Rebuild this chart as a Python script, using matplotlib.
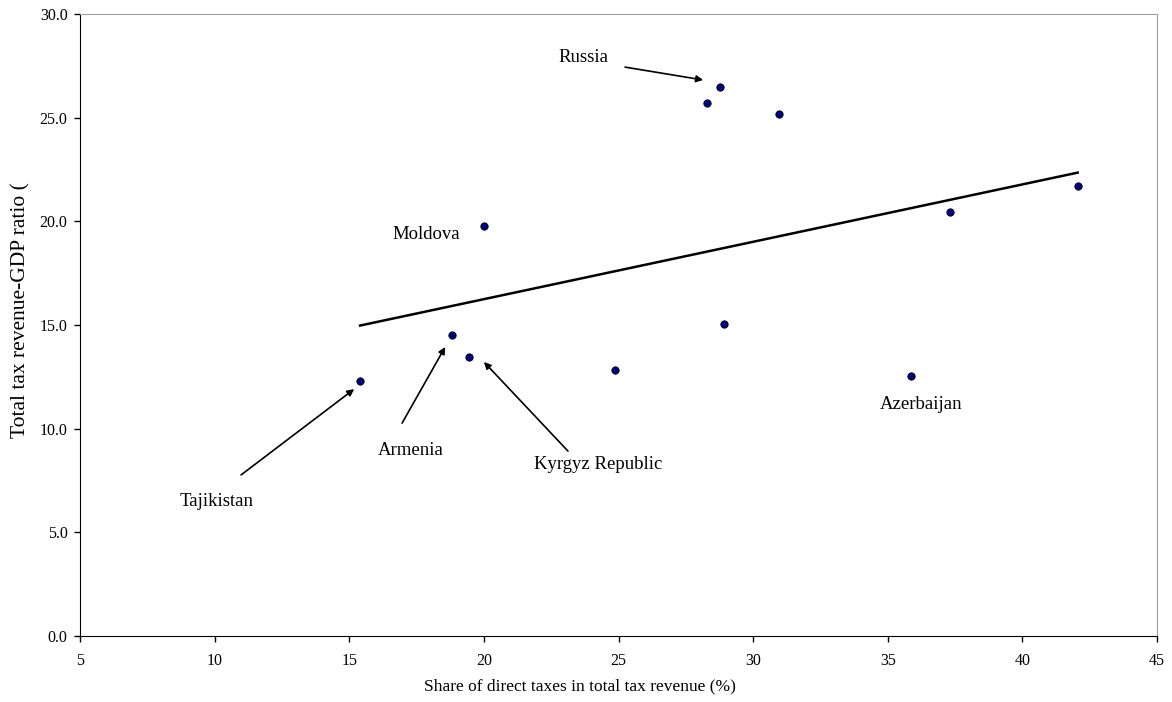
import numpy as np
import matplotlib.pyplot as plt

# Share of direct taxes (%) vs total tax revenue / GDP (%)
direct_share = [15.4, 18.8, 19.45, 20.0, 24.85, 28.9, 28.3, 28.75, 30.95, 35.85, 37.3, 42.05]
tax_gdp = [12.3, 14.5, 13.45, 19.8, 12.85, 15.05, 25.7, 26.5, 25.2, 12.55, 20.45, 21.7]

x_ticks = [5, 10, 15, 20, 25, 30, 35, 40, 45]
y_ticks = [0, 5, 10, 15, 20, 25, 30]

plt.rcParams['font.family'] = ['Liberation Serif', 'DejaVu Serif']

fig = plt.figure(figsize=(11.72, 7.02), dpi=100)
ax = fig.add_axes([0.0683, 0.094, 0.919, 0.886])

ax.scatter(direct_share, tax_gdp, s=28, color='#000080', edgecolor='black', linewidth=0.6, zorder=3)

# linear trend line over the data range
slope, intercept = np.polyfit(direct_share, tax_gdp, 1)
xs = np.array([min(direct_share), max(direct_share)])
ax.plot(xs, slope * xs + intercept, color='black', linewidth=1.8)

ax.set_xlim(5, 45)
ax.set_ylim(0, 30)
ax.set_xticks(x_ticks)
ax.set_yticks(y_ticks)
ax.set_yticklabels([f"{v:.1f}" for v in y_ticks])
ax.tick_params(direction='out', length=4, labelsize=11.5, width=1)
ax.tick_params(axis='x', pad=8.5)
ax.tick_params(axis='y', pad=5)

for side in ['top', 'right']:
    ax.spines[side].set_color('#a0a0a0')
for side in ['left', 'bottom']:
    ax.spines[side].set_color('black')

ax.set_xlabel("Share of direct taxes in total tax revenue (%)", fontsize=12.5)
ax.set_ylabel("Total tax revenue-GDP ratio (", fontsize=15.5)
ax.xaxis.set_label_coords(0.464, -0.068)
ax.yaxis.set_label_coords(-0.046, 0.524)

arrow = dict(arrowstyle='-|>', color='black', lw=1.2, mutation_scale=10, shrinkA=0, shrinkB=0)
ax.annotate("", xy=(28.14, 26.82), xytext=(25.24, 27.44), arrowprops=arrow)
ax.text(23.68, 27.88, "Russia", fontsize=13.5, ha='center', va='center')
ax.annotate("", xy=(15.18, 11.91), xytext=(10.98, 7.77), arrowprops=arrow)
ax.text(10.09, 6.51, "Tajikistan", fontsize=13.5, ha='center', va='center')
ax.annotate("", xy=(18.56, 13.94), xytext=(16.96, 10.27), arrowprops=arrow)
ax.text(17.29, 8.97, "Armenia", fontsize=13.5, ha='center', va='center')
ax.annotate("", xy=(20.0, 13.22), xytext=(23.12, 8.92), arrowprops=arrow)
ax.text(24.24, 8.25, "Kyrgyz Republic", fontsize=13.5, ha='center', va='center')
ax.text(17.85, 19.39, "Moldova", fontsize=13.5, ha='center', va='center')
ax.text(36.23, 11.19, "Azerbaijan", fontsize=13.5, ha='center', va='center')

fig.savefig("out.png", dpi=100)
